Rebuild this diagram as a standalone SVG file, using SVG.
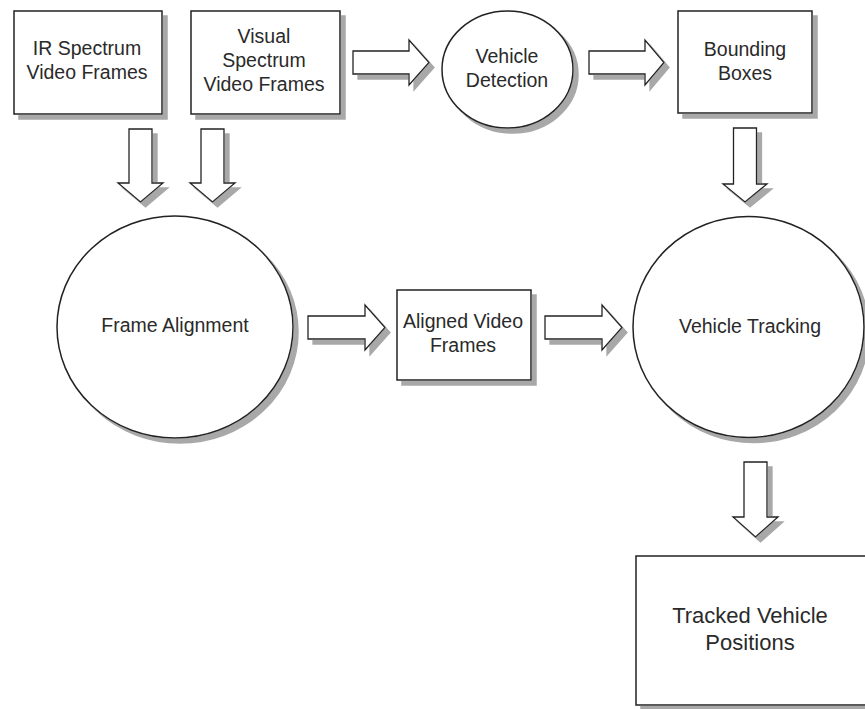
<svg xmlns="http://www.w3.org/2000/svg" width="865" height="709" viewBox="0 0 865 709">
<defs>
<filter id="sh" x="-10%" y="-10%" width="130%" height="130%">
<feFlood flood-color="#a8a8a8" result="c"/>
<feComposite in="c" in2="SourceAlpha" operator="in" result="s"/>
<feOffset in="s" dx="5" dy="5" result="o"/>
<feMerge><feMergeNode in="o"/><feMergeNode in="SourceGraphic"/></feMerge>
</filter>
</defs>
<style>
.n{fill:#fff;stroke:#222;stroke-width:1.5;filter:url(#sh)}
.a{fill:#fff;stroke:#222;stroke-width:1.3;stroke-linejoin:miter;filter:url(#sh)}
text{font-family:"Liberation Sans",Arial,sans-serif;font-size:19.5px;fill:#2a2a2a;text-anchor:middle}
.big{font-size:22px}
</style>
<rect width="865" height="709" fill="#fff"/>
<g id="connectors">
<polygon class="a" points="353,51 409,51 409,40 429,62.5 409,85 409,74 353,74"/>
<polygon class="a" points="589,51 645,51 645,40 664,62.5 645,85 645,74 589,74"/>
<polygon class="a" points="308,316 365,316 365,305 385,327.5 365,350 365,339 308,339"/>
<polygon class="a" points="545,316 602,316 602,305 622,327.5 602,350 602,339 545,339"/>
<polygon class="a" points="129,129 152,129 152,183 163,183 140.5,202 118,183 129,183"/>
<polygon class="a" points="201,129 224,129 224,183 235,183 212.5,202 190,183 201,183"/>
<polygon class="a" points="733.5,128 756.5,128 756.5,184 767,184 745,202 723,184 733.5,184"/>
<polygon class="a" points="744,462 767,462 767,517 778,517 755.5,537 733,517 744,517"/>
</g>
<g id="ir">
<rect class="n" x="14" y="11" width="148" height="103"/>
<text x="87" y="55">IR Spectrum</text>
<text x="87" y="79">Video Frames</text>
</g>
<g id="visual">
<rect class="n" x="191" y="11" width="149" height="103"/>
<text x="264" y="43">Visual</text>
<text x="264" y="67">Spectrum</text>
<text x="264" y="91">Video Frames</text>
</g>
<g id="detection">
<ellipse class="n" cx="507.5" cy="69.5" rx="65.5" ry="58.5"/>
<text x="507" y="63">Vehicle</text>
<text x="507" y="87">Detection</text>
</g>
<g id="bounding">
<rect class="n" x="678" y="11" width="134" height="102"/>
<text x="745" y="56">Bounding</text>
<text x="745" y="80">Boxes</text>
</g>
<g id="alignment">
<ellipse class="n" cx="175" cy="327" rx="118" ry="111"/>
<text x="175" y="332">Frame Alignment</text>
</g>
<g id="aligned">
<rect class="n" x="397" y="290" width="134" height="90"/>
<text x="463" y="328">Aligned Video</text>
<text x="463" y="352">Frames</text>
</g>
<g id="tracking">
<ellipse class="n" cx="748.5" cy="327" rx="115.5" ry="110.5"/>
<text x="750" y="333">Vehicle Tracking</text>
</g>
<g id="positions">
<rect class="n" x="636" y="556" width="232" height="149"/>
<text class="big" x="750" y="623">Tracked Vehicle</text>
<text class="big" x="750" y="650">Positions</text>
</g>
</svg>
